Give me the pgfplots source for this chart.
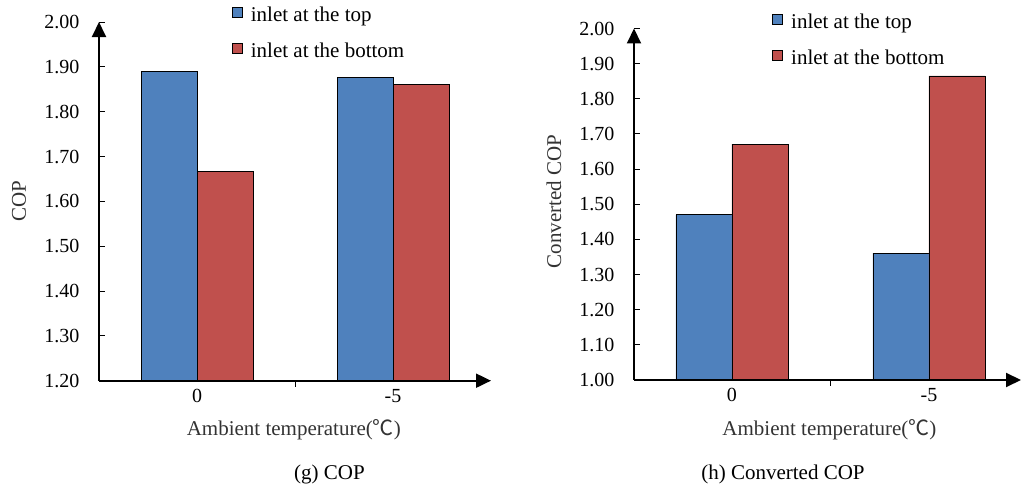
\documentclass[border=0pt]{standalone}
\usepackage{fontspec}
\setmainfont{Liberation Serif}
\newfontfamily\cjk{Noto Sans CJK SC}
\usepackage{pgfplots}
\pgfplotsset{compat=1.18}
\usetikzlibrary{arrows.meta}
\definecolor{barblue}{HTML}{4F81BD}
\definecolor{barred}{HTML}{C0504D}
\newcommand\fa{\fontsize{21bp}{25bp}\selectfont}
\newcommand\ft{\fontsize{20bp}{24bp}\selectfont}
\pgfplotsset{
  mystyle/.style={
    scale only axis,
    anchor=south west,
    axis on top,
    axis lines=left,
    tick align=inside,
    major tick length=6bp,
    tick style={line width=1bp, black},
    ybar=0pt, bar width=56bp,
    xtick={0.5}, xticklabels={},
    extra x ticks={0,1}, extra x tick labels={0,-5},
    extra x tick style={major tick length=0pt},
    ticklabel style={font=\ft},
    yticklabel style={xshift=-16bp},
    xticklabel style={yshift=-5bp},
    label style={font=\fa, text=black!80},
    legend style={draw=none, fill=none, inner sep=0pt, font=\fa, row sep=16bp, column sep=8bp,
      nodes={inner sep=0pt, text height=15bp, text depth=5bp}, anchor=north west},
    legend image code/.code={\draw[#1, line width=0.8bp] (0bp,-1bp) rectangle (10bp,9bp);},
    legend cell align=left,
  }
}
\begin{document}
\begin{tikzpicture}
\useasboundingbox (0,0) rectangle (1022bp,488bp);
% ---- (g) COP
\begin{axis}[mystyle,
  at={(99bp,107.3bp)}, width=392bp, height=358.7bp,
  xmin=-0.5, xmax=1.5, ymin=1.2, ymax=2.0,
  axis line style={line width=2bp, -{Triangle[width=14bp,length=15bp]}},
  ytick={1.2,1.3,1.4,1.5,1.6,1.7,1.8,1.9,2.0},
  yticklabels={1.20,1.30,1.40,1.50,1.60,1.70,1.80,1.90,2.00},
  ylabel={COP},
  ylabel style={at={(axis description cs:-0.204,0.5)}, anchor=center},
  xlabel={Ambient temperature({\cjk ℃})},
  xlabel style={at={(axis description cs:0.497,-0.1375)}, anchor=center},
  legend style={at={(0.339,1.044)}},
]
\addplot[fill=barblue, draw=black, line width=0.7bp] coordinates {(0,1.89) (1,1.877)};
\addplot[fill=barred, draw=black, line width=0.7bp] coordinates {(0,1.667) (1,1.861)};
\addlegendentry{inlet at the top}
\addlegendentry{inlet at the bottom}
\end{axis}
% ---- (h) Converted COP
\begin{axis}[mystyle,
  at={(634bp,108bp)}, width=387bp, height=351.5bp,
  xmin=-0.497, xmax=1.467, ymin=1.0, ymax=2.0,
  axis line style={line width=2bp, -{Triangle[width=14bp,length=15bp]}},
  ytick={1.0,1.1,1.2,1.3,1.4,1.5,1.6,1.7,1.8,1.9,2.0},
  yticklabels={1.00,1.10,1.20,1.30,1.40,1.50,1.60,1.70,1.80,1.90,2.00},
  ylabel={Converted COP},
  ylabel style={at={(axis description cs:-0.207,0.508)}, anchor=center},
  xlabel={Ambient temperature({\cjk ℃})},
  xlabel style={at={(axis description cs:0.505,-0.142)}, anchor=center},
  legend style={at={(0.357,1.044)}},
]
\addplot[fill=barblue, draw=black, line width=0.7bp] coordinates {(0,1.47) (1,1.361)};
\addplot[fill=barred, draw=black, line width=0.7bp] coordinates {(0,1.671) (1,1.865)};
\addlegendentry{inlet at the top}
\addlegendentry{inlet at the bottom}
\end{axis}
\node[font=\fa] at (329.5bp,14bp) {(g) COP};
\node[font=\fa] at (783bp,14bp) {(h) Converted COP};
\end{tikzpicture}
\end{document}
